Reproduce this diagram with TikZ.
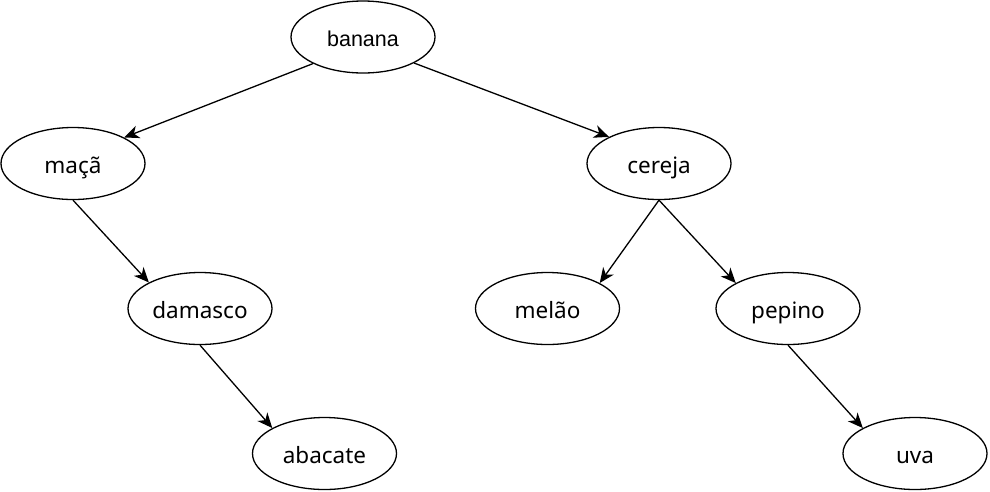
\documentclass[tikz,border=0pt]{standalone}
\usepackage{fontspec}
\setmainfont{Noto Sans}
\newfontfamily\arialfont{Liberation Sans}
\usetikzlibrary{shapes.geometric,arrows.meta}
\begin{document}
\begin{tikzpicture}[x=1pt,y=-1pt,
  tnode/.style={ellipse,draw,line width=1.3pt,minimum width=144pt,minimum height=72pt,inner sep=0pt,text height=21pt,text depth=1.4pt,font=\fontsize{22.5}{26}\selectfont},
  edge/.style={line width=1.3pt,-{Stealth[length=15pt,width=13pt,inset=4.5pt]}}]
\useasboundingbox (0,0) rectangle (990,491);
\node[tnode,font=\fontsize{21.5}{24}\arialfont] (b) at (363,37) {banana};
\node[tnode] (m) at (73,163.5) {maçã};
\node[tnode] (c) at (659,163.5) {cereja};
\node[tnode] (d) at (200,308.5) {damasco};
\node[tnode] (ml) at (547.5,308.5) {melão};
\node[tnode] (p) at (788,308.5) {pepino};
\node[tnode] (a) at (324.5,453.5) {abacate};
\node[tnode] (u) at (915,453.5) {uva};
\draw[edge] (b.208) -- (m.27);
\draw[edge] (b.333) -- (c.152);
\draw[edge] (m.south) -- (d.153);
\draw[edge] (c.south) -- (ml.26);
\draw[edge] (c.south) -- (p.154);
\draw[edge] (d.south) -- (a.154);
\draw[edge] (p.south) -- (u.154);
\end{tikzpicture}
\end{document}
